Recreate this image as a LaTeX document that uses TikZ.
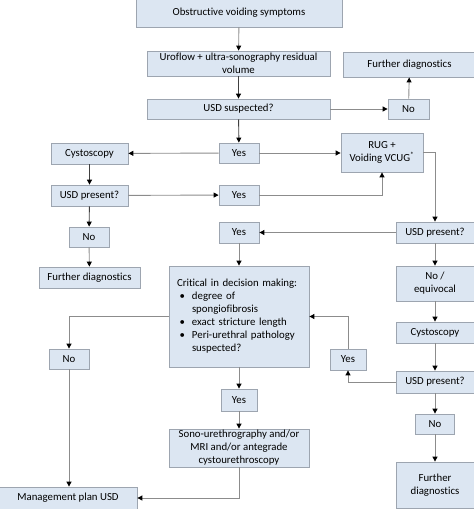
\documentclass[tikz,border=0pt]{standalone}
\usepackage{fontspec}
\setmainfont[Ligatures=NoCommon]{Carlito}
\usetikzlibrary{arrows.meta}
\definecolor{boxfill}{HTML}{DCE6F2}
\definecolor{boxline}{HTML}{9DA5B0}
\definecolor{lineg}{HTML}{8C8C8C}
\definecolor{lined}{HTML}{404040}
\tikzset{
  box/.style={draw=boxline, fill=boxfill, line width=0.8pt, inner sep=1pt, align=center,
    font=\fontsize{10.8}{13}\selectfont},
  conn/.style={draw=lineg, line width=0.9pt, -{Triangle[length=5pt,width=5pt,color=black]}},
  connd/.style={conn, draw=lined},
}
\newcommand{\bx}[1]{\hspace*{2.5pt}\makebox[12.5pt][l]{\textbullet}#1}
\newcommand{\ind}[1]{\hspace*{15pt}#1}
\begin{document}
\begin{tikzpicture}[x=1pt,y=-1pt]
\useasboundingbox (0,0) rectangle (474,509);
\node[box, minimum width=206pt, minimum height=28pt] (obs) at (239,13) {Obstructive voiding symptoms};
\node[box, minimum width=183pt, minimum height=25pt] (uro) at (238.5,63.5) {Uroflow + ultra-sonography residual\\volume};
\node[box, minimum width=133pt, minimum height=25pt] (fd1) at (409.5,64.5) {Further diagnostics};
\node[box, minimum width=183pt, minimum height=20pt] (susp) at (238.5,109) {USD suspected?};
\node[box, minimum width=41pt, minimum height=20pt] (no1) at (408.5,109) {No};
\node[box, minimum width=40pt, minimum height=20pt] (yes1) at (239,153) {Yes};
\node[box, minimum width=77pt, minimum height=21pt] (cys1) at (89.5,153.5) {Cystoscopy};
\node[box, minimum width=82pt, minimum height=39pt] (rug) at (382,152.5) {RUG +\\Voiding VCUG\textsuperscript{*}};
\node[box, minimum width=77pt, minimum height=21pt] (pres1) at (89.5,195.5) {USD present?};
\node[box, minimum width=40pt, minimum height=20pt] (yes2) at (239,195) {Yes};
\node[box, minimum width=40pt, minimum height=20pt] (no2) at (89,237) {No};
\node[box, minimum width=40pt, minimum height=21pt] (yes3) at (239,232.5) {Yes};
\node[box, minimum width=78pt, minimum height=21pt] (pres2) at (435,232.5) {USD present?};
\node[box, minimum width=101pt, minimum height=21pt] (fd2) at (89.5,277.5) {Further diagnostics};
\node[box, minimum height=101pt, text width=124pt, inner xsep=8pt, align=left] (crit) at (239,316.5)
  {Critical in decision making:\\ \bx{degree of}\\ \ind{spongiofibrosis}\\ \bx{exact stricture length}\\ \bx{Peri-urethral pathology}\\ \ind{suspected?}};
\node[box, minimum width=78pt, minimum height=35pt] (noeq) at (435,283.5) {No /\\equivocal};
\node[box, minimum width=78pt, minimum height=21pt] (cys2) at (435,332.5) {Cystoscopy};
\node[box, minimum width=36pt, minimum height=21pt] (yes4) at (348,359.5) {Yes};
\node[box, minimum width=40pt, minimum height=20pt] (no3) at (69,359) {No};
\node[box, minimum width=78pt, minimum height=22pt] (pres3) at (435,382) {USD present?};
\node[box, minimum width=36pt, minimum height=22pt] (yes5) at (239,400) {Yes};
\node[box, minimum width=39pt, minimum height=20pt] (no4) at (435,424) {No};
\node[box, minimum width=140pt, minimum height=38pt] (sono) at (239,448) {Sono-urethrography and/or\\MRI and/or antegrade\\cystourethroscopy};
\node[box, minimum width=78pt, minimum height=46pt] (fd3) at (435,485) {Further\\diagnostics};
\node[box, minimum width=138pt, minimum height=22pt] (mgmt) at (68,498) {Management plan USD};

\draw[conn] (obs) -- (uro);
\draw[connd] (uro) -- (susp);
\draw[connd] (susp) -- (yes1);
\draw[conn] (susp.east) -- (no1.west);
\draw[conn] (no1) -- (fd1);
\draw[conn] (yes1) -- (cys1);
\draw[conn] (yes1) -- (rug.west |- yes1);
\draw[connd] (cys1) -- (pres1);
\draw[conn] (pres1) -- (yes2);
\draw[conn] (yes2.east) -| (rug.south);
\draw[conn] (rug.east) -| (pres2.north);
\draw[connd] (pres1) -- (no2);
\draw[conn] (no2) -- (fd2);
\draw[conn] (pres2) -- (yes3);
\draw[conn] (yes3) -- (crit);
\draw[conn] (pres2) -- (noeq);
\draw[conn] (noeq) -- (cys2);
\draw[conn] (cys2) -- (pres3);
\draw[conn] (pres3.west) -| (yes4.south);
\draw[conn] (yes4.north) |- (crit.east);
\draw[conn] (crit.west) -| (no3.north);
\draw[conn] (no3.south) -- (no3.south |- mgmt.north);
\draw[conn] (crit) -- (yes5);
\draw[conn] (yes5) -- (sono);
\draw[conn] (sono.south) |- (mgmt.east);
\draw[conn] (pres3) -- (no4);
\draw[conn] (no4) -- (fd3);
\end{tikzpicture}
\end{document}
